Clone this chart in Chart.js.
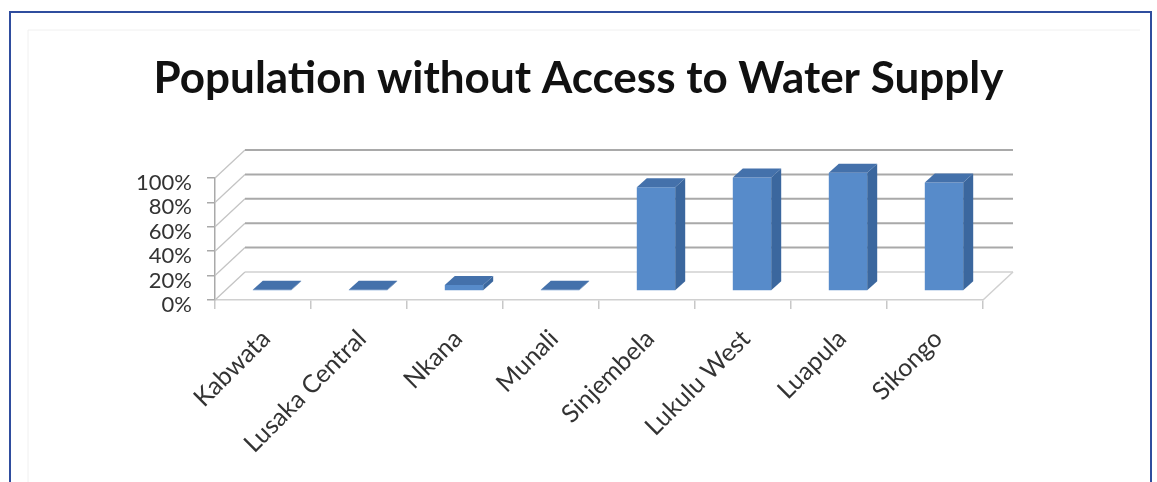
<!DOCTYPE html>
<html>
<head>
<meta charset="utf-8">
<script src="https://cdn.jsdelivr.net/npm/chart.js@4.4.1/dist/chart.umd.min.js"></script>
<style>
    html, body { margin: 0; padding: 0; background: #fff; }
    #wrap { width: 1157px; height: 482px; }
</style>
</head>
<body>
<div id="wrap"><canvas id="waterChart"></canvas></div>
<script>
const districts = ['Kabwata', 'Lusaka Central', 'Nkana', 'Munali', 'Sinjembela', 'Lukulu West', 'Luapula', 'Sikongo'];
const noAccess = [1, 1, 5, 1, 85, 93, 97, 89];
const yTicks = [0, 20, 40, 60, 80, 100];

// fake 3D: floor depth, where the bars stand, and how deep they are
const FLOOR = { dx: 30, dy: -28 };
const BAR_FRONT = { dx: 9, dy: -9 };
const BAR_DEPTH = { dx: 10, dy: -9 };

function line(ctx, x1, y1, x2, y2) {
    ctx.beginPath();
    ctx.moveTo(x1, y1);
    ctx.lineTo(x2, y2);
    ctx.stroke();
}

function poly(ctx, pts) {
    ctx.beginPath();
    ctx.moveTo(pts[0][0], pts[0][1]);
    pts.slice(1).forEach(p => ctx.lineTo(p[0], p[1]));
    ctx.closePath();
    ctx.fill();
}

const frame3d = {
    id: 'frame3d',
    beforeDraw(chart) {
        const { ctx, width, height } = chart;
        ctx.save();
        ctx.fillStyle = '#fff';
        ctx.fillRect(0, 0, width, height);
        ctx.strokeStyle = '#f0f0f0';
        ctx.lineWidth = 1;
        line(ctx, 28, 30, 1140, 30);
        line(ctx, 28, 30, 28, height);
        ctx.strokeStyle = '#2f4d9e';
        ctx.lineWidth = 2;
        ctx.strokeRect(10, 12, 1141, 520);
        ctx.restore();
    },
    beforeDatasetsDraw(chart) {
        const { ctx, chartArea: a, scales: { y } } = chart;
        ctx.save();
        yTicks.forEach(v => {
            const fy = y.getPixelForValue(v);
            ctx.strokeStyle = '#c4c4c4';
            ctx.lineWidth = 1.3;
            line(ctx, a.left, fy, a.left + FLOOR.dx, fy + FLOOR.dy);
            ctx.strokeStyle = v === 0 ? '#d0d0d0' : '#a9a9a9';
            ctx.lineWidth = v === 0 ? 1.5 : 2;
            line(ctx, a.left + FLOOR.dx, fy + FLOOR.dy, a.right + FLOOR.dx, fy + FLOOR.dy);
        });
        ctx.strokeStyle = '#d0d0d0';
        ctx.lineWidth = 1.5;
        line(ctx, a.right, a.bottom, a.right + FLOOR.dx, a.bottom + FLOOR.dy);
        ctx.restore();

        // bars are drawn by Chart.js, just pushed back into the depth
        ctx.save();
        ctx.translate(BAR_FRONT.dx, BAR_FRONT.dy);
    },
    afterDatasetsDraw(chart) {
        const ctx = chart.ctx;
        chart.getDatasetMeta(0).data.forEach(bar => {
            const { x, y, base, width } = bar.getProps(['x', 'y', 'base', 'width'], true);
            const l = x - width / 2, r = x + width / 2;
            const dx = BAR_DEPTH.dx, dy = BAR_DEPTH.dy;
            ctx.fillStyle = '#3b679e';
            poly(ctx, [[r, y], [r + dx, y + dy], [r + dx, base + dy], [r, base]]);
            ctx.fillStyle = '#4471ab';
            poly(ctx, [[l, y], [l + dx, y + dy], [r + dx, y + dy], [r, y]]);
        });
        ctx.restore();
    }
};

const ctxWater = document.getElementById('waterChart').getContext('2d');

const waterChart = new Chart(ctxWater, {
    type: 'bar',
    data: {
        labels: districts,
        datasets: [{
            data: noAccess,
            backgroundColor: '#578bca',
            borderWidth: 0,
            categoryPercentage: 1,
            barPercentage: 0.4,
            clip: false
        }]
    },
    options: {
        responsive: true,
        maintainAspectRatio: false,
        animation: false,
        layout: { padding: 0 },
        plugins: {
            legend: { display: false },
            tooltip: { enabled: false },
            title: {
                display: true,
                text: 'Population without Access to Water Supply',
                color: '#111',
                font: { family: 'Lato', size: 44, weight: 'bold' },
                padding: { top: 52, bottom: 73.2 }
            }
        },
        scales: {
            x: {
                afterFit(scale) { scale.height = 182; },
                grid: { offset: true, drawOnChartArea: false, tickLength: 9, color: '#c8c8c8', lineWidth: 1.5 },
                border: { color: '#d0d0d0', width: 1.5 },
                ticks: {
                    autoSkip: false,
                    minRotation: 45,
                    maxRotation: 45,
                    padding: 15,
                    labelOffset: 3,
                    color: '#333',
                    font: { family: 'Lato', size: 25 }
                }
            },
            y: {
                min: 0,
                max: 100,
                afterFit(scale) { scale.width = 215; },
                afterBuildTicks(scale) { scale.ticks = yTicks.map(v => ({ value: v })); },
                grid: { drawOnChartArea: false, tickLength: 8, color: '#a9a9a9', lineWidth: 1.5 },
                border: { color: '#a9a9a9', width: 1.5 },
                ticks: {
                    autoSkip: false,
                    padding: 15,
                    labelOffset: 5,
                    color: '#333',
                    font: { family: 'Lato', size: 22 },
                    callback: v => v + '%'
                }
            },
            // empty axis on the right, only keeps room for the 3D depth and margin
            yRight: {
                position: 'right',
                afterFit(scale) { scale.width = 174; },
                grid: { display: false },
                border: { display: false },
                ticks: { display: false }
            }
        }
    },
    plugins: [frame3d]
});
</script>
</body>
</html>
